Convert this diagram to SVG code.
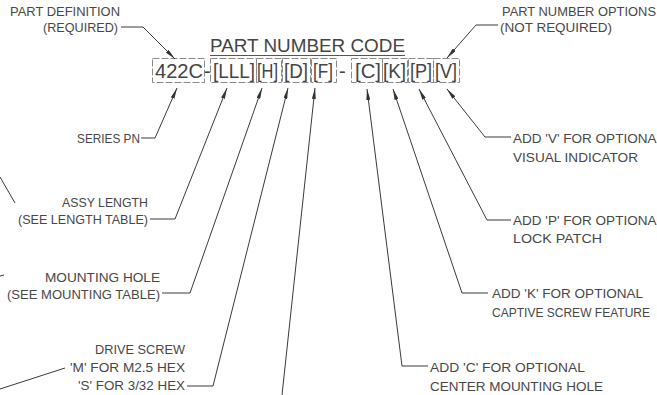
<svg xmlns="http://www.w3.org/2000/svg" width="657" height="395" viewBox="0 0 657 395">
<defs>
<marker id="arr" viewBox="0 0 11 4" refX="11" refY="2" markerWidth="11" markerHeight="4" markerUnits="userSpaceOnUse" orient="auto">
<path d="M0,0 L11,2 L0,4 Z" fill="#333"/>
</marker>
</defs>
<style>
text{font-family:"Liberation Sans",Arial,sans-serif;fill:#474747}
.s{font-size:13px}
.s2{font-size:12px}
.c{font-size:20px;fill:#444}
.t{font-size:19px;fill:#444}
.ld{fill:none;stroke:#3a3a3a;stroke-width:1}
.bx{fill:none;stroke:#8a8a8a;stroke-width:1;stroke-dasharray:7 2}
</style>
<rect width="657" height="395" fill="#fff"/>
<g id="code">
<text class="t" x="210" y="52" textLength="195" lengthAdjust="spacingAndGlyphs">PART NUMBER CODE</text>
<line x1="210" y1="55.5" x2="405" y2="55.5" stroke="#555" stroke-width="1"/>
<rect class="bx" x="152.5" y="58.5" width="52" height="24"/>
<rect class="bx" x="210.5" y="58.5" width="46" height="24"/>
<rect class="bx" x="256.5" y="58.5" width="25" height="24"/>
<rect class="bx" x="282.5" y="58.5" width="28" height="24"/>
<rect class="bx" x="311.5" y="58.5" width="25" height="24"/>
<rect class="bx" x="351.5" y="58.5" width="31" height="24"/>
<rect class="bx" x="382.5" y="58.5" width="25" height="24"/>
<rect class="bx" x="408.5" y="58.5" width="25" height="24"/>
<rect class="bx" x="433.5" y="58.5" width="26" height="24"/>
<text class="c" x="155" y="78" textLength="48" lengthAdjust="spacingAndGlyphs">422C</text>
<text class="c" x="204" y="78">-</text>
<text class="c" x="213" y="78" textLength="42" lengthAdjust="spacingAndGlyphs">[LLL]</text>
<text class="c" x="257" y="78" textLength="21" lengthAdjust="spacingAndGlyphs">[H]</text>
<text class="c" x="284" y="78" textLength="24" lengthAdjust="spacingAndGlyphs">[D]</text>
<text class="c" x="313" y="78" textLength="20" lengthAdjust="spacingAndGlyphs">[F]</text>
<text class="c" x="339" y="78">-</text>
<text class="c" x="355" y="78" textLength="26" lengthAdjust="spacingAndGlyphs">[C]</text>
<text class="c" x="383" y="78" textLength="23" lengthAdjust="spacingAndGlyphs">[K]</text>
<text class="c" x="410" y="78" textLength="22" lengthAdjust="spacingAndGlyphs">[P]</text>
<text class="c" x="435" y="78" textLength="22" lengthAdjust="spacingAndGlyphs">[V]</text>
</g>
<g id="part-definition">
<text class="s" x="10" y="16" textLength="110" lengthAdjust="spacingAndGlyphs">PART DEFINITION</text>
<text class="s" x="43" y="32" textLength="75" lengthAdjust="spacingAndGlyphs">(REQUIRED)</text>
</g>
<g id="part-number-options">
<text class="s" x="502" y="16" textLength="154" lengthAdjust="spacingAndGlyphs">PART NUMBER OPTIONS</text>
<text class="s" x="500" y="32" textLength="112" lengthAdjust="spacingAndGlyphs">(NOT REQUIRED)</text>
</g>
<g id="series-pn">
<text class="s" x="77" y="143" textLength="63" lengthAdjust="spacingAndGlyphs">SERIES PN</text>
</g>
<g id="assy-length">
<text class="s" x="62" y="207" textLength="86" lengthAdjust="spacingAndGlyphs">ASSY LENGTH</text>
<text class="s" x="18" y="224" textLength="130" lengthAdjust="spacingAndGlyphs">(SEE LENGTH TABLE)</text>
</g>
<g id="mounting-hole">
<text class="s" x="45" y="282" textLength="115" lengthAdjust="spacingAndGlyphs">MOUNTING HOLE</text>
<text class="s" x="7" y="299" textLength="153" lengthAdjust="spacingAndGlyphs">(SEE MOUNTING TABLE)</text>
</g>
<g id="drive-screw">
<text class="s" x="95" y="354" textLength="90" lengthAdjust="spacingAndGlyphs">DRIVE SCREW</text>
<text class="s" x="70" y="372" textLength="115" lengthAdjust="spacingAndGlyphs">'M' FOR M2.5 HEX</text>
<text class="s" x="78" y="390" textLength="107" lengthAdjust="spacingAndGlyphs">'S' FOR 3/32 HEX</text>
</g>
<g id="option-v">
<text class="s" x="513" y="143" textLength="151" lengthAdjust="spacingAndGlyphs">ADD 'V' FOR OPTIONAL</text>
<text class="s" x="513" y="162" textLength="125" lengthAdjust="spacingAndGlyphs">VISUAL INDICATOR</text>
</g>
<g id="option-p">
<text class="s" x="513" y="225" textLength="151" lengthAdjust="spacingAndGlyphs">ADD 'P' FOR OPTIONAL</text>
<text class="s" x="513" y="243" textLength="89" lengthAdjust="spacingAndGlyphs">LOCK PATCH</text>
</g>
<g id="option-k">
<text class="s" x="492" y="298" textLength="151" lengthAdjust="spacingAndGlyphs">ADD 'K' FOR OPTIONAL</text>
<text class="s2" x="492" y="317" textLength="158" lengthAdjust="spacingAndGlyphs">CAPTIVE SCREW FEATURE</text>
</g>
<g id="option-c">
<text class="s" x="430" y="372" textLength="155" lengthAdjust="spacingAndGlyphs">ADD 'C' FOR OPTIONAL</text>
<text class="s" x="430" y="391" textLength="173" lengthAdjust="spacingAndGlyphs">CENTER MOUNTING HOLE</text>
</g>
<g id="connectors">
<polyline class="ld" points="121,27 143,27 175,59" marker-end="url(#arr)"/>
<polyline class="ld" points="498,25 476,25 447,58" marker-end="url(#arr)"/>
<polyline class="ld" points="141,138 155,138 177,88" marker-end="url(#arr)"/>
<polyline class="ld" points="150,219 175,219 227,88" marker-end="url(#arr)"/>
<polyline class="ld" points="162,293 190,293 262,88" marker-end="url(#arr)"/>
<polyline class="ld" points="187,386 213,386 288,88" marker-end="url(#arr)"/>
<polyline class="ld" points="282,395 315,88" marker-end="url(#arr)"/>
<polyline class="ld" points="428,366 402,366 367,89" marker-end="url(#arr)"/>
<polyline class="ld" points="488,293 462,293 393,89" marker-end="url(#arr)"/>
<polyline class="ld" points="511,220 487,220 419,89" marker-end="url(#arr)"/>
<polyline class="ld" points="511,137 485,137 447,89" marker-end="url(#arr)"/>
<line class="ld" x1="0" y1="177" x2="15" y2="203"/>
<line class="ld" x1="0" y1="276" x2="4" y2="275"/>
<line class="ld" x1="0" y1="389" x2="65" y2="368"/>
</g>
</svg>
